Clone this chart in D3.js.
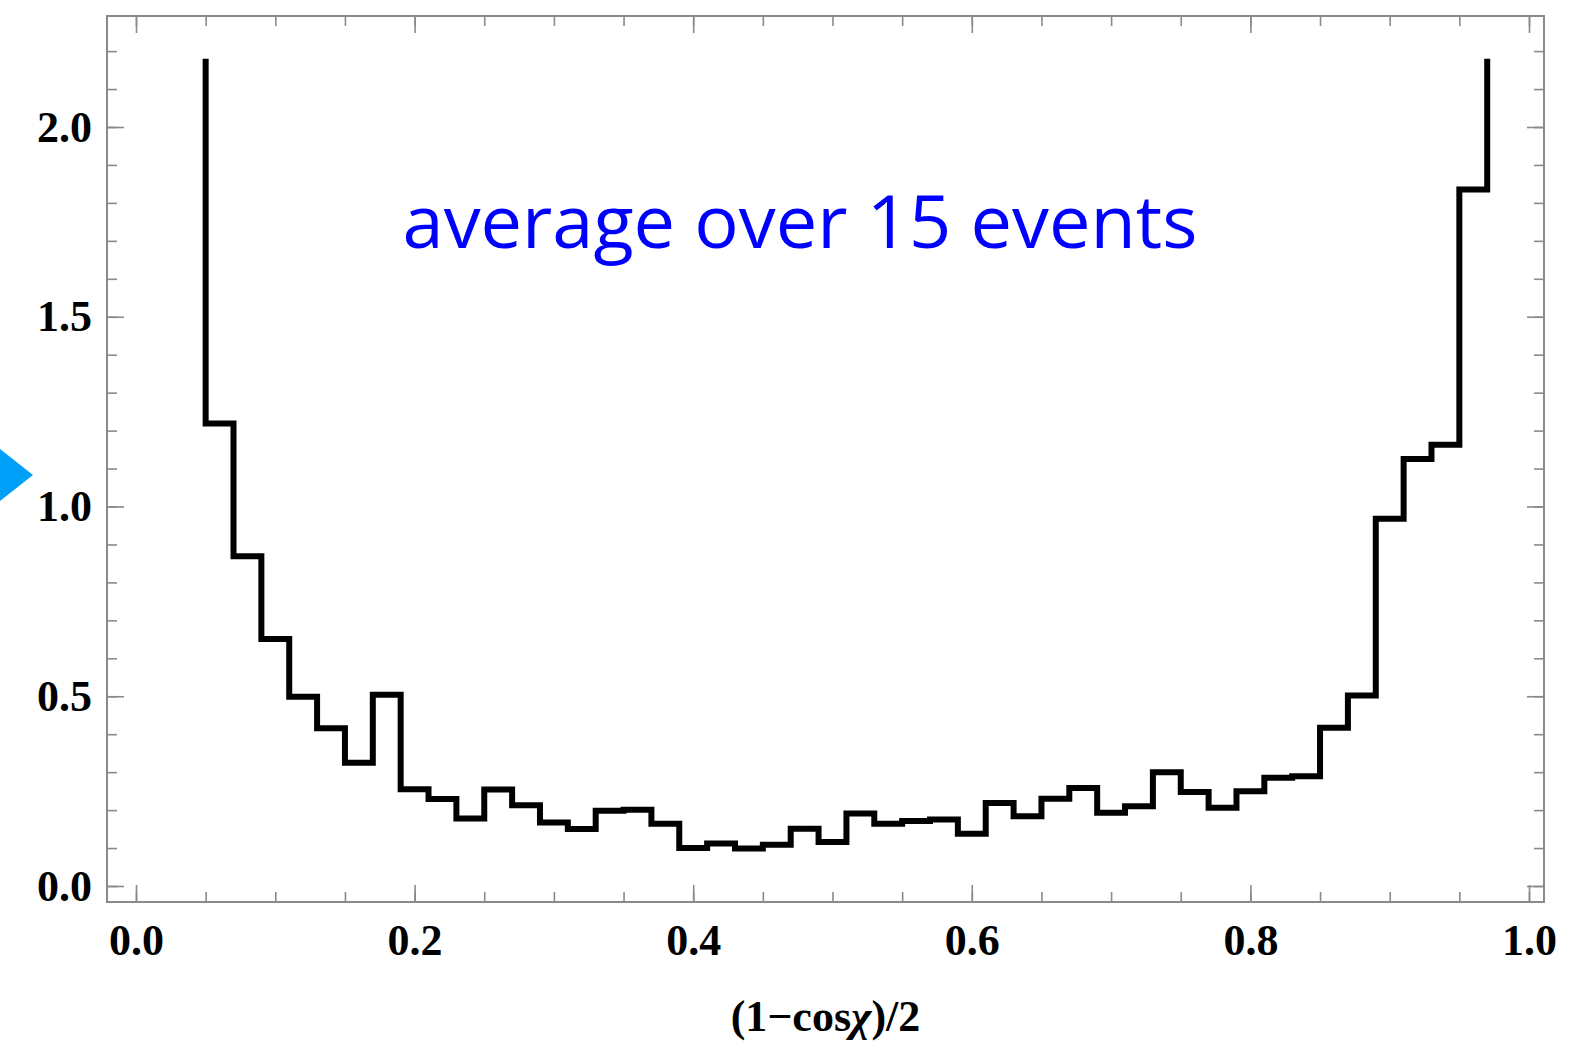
<!DOCTYPE html>
<html lang="en">
<head>
    <meta charset="UTF-8">
    <title>Histogram</title>
    <script src="https://d3js.org/d3.v7.min.js"></script>
    <style>
        body { margin: 0; background: #fff; }
        .tick line { stroke: #8a8a8a; stroke-width: 1.6; }
        .lbl text { font: bold 44px "Liberation Serif", "Times New Roman", serif; fill: #000; }
    </style>
</head>
<body>
<script>
    // bin edges run from 0.05 to 0.97 in steps of 0.02
    var binStart = 0.05, binWidth = 0.02;
    var binValues = [1.219, 0.869, 0.651, 0.499, 0.416, 0.325, 0.504, 0.255, 0.229, 0.178,
                     0.254, 0.213, 0.167, 0.150, 0.198, 0.201, 0.164, 0.100, 0.112, 0.099,
                     0.109, 0.151, 0.116, 0.191, 0.164, 0.171, 0.175, 0.138, 0.219, 0.184,
                     0.230, 0.258, 0.193, 0.210, 0.300, 0.248, 0.206, 0.250, 0.285, 0.289,
                     0.417, 0.502, 0.968, 1.125, 1.163, 1.835];
    var plotTop = 2.18;   // outer bins run off the plot range
    var xTicks = [0, 0.2, 0.4, 0.6, 0.8, 1.0];
    var yTicks = [0, 0.5, 1.0, 1.5, 2.0];
    var xMinor = d3.range(0, 1.0001, 0.05);
    var yMinor = d3.range(0, 2.2001, 0.1);

    var W = 1589, H = 1043;
    var frame = {left: 107, right: 1544, top: 16, bottom: 902};

    var x = d3.scaleLinear().domain([0, 1]).range([136, 1529]);
    var y = d3.scaleLinear().domain([0, 2]).range([886, 127]);

    var svg = d3.select("body").append("svg")
        .attr("width", W)
        .attr("height", H);

    // frame
    svg.append("rect")
        .attr("x", frame.left).attr("y", frame.top)
        .attr("width", frame.right - frame.left)
        .attr("height", frame.bottom - frame.top)
        .attr("fill", "none")
        .attr("stroke", "#8a8a8a")
        .attr("stroke-width", 2);

    function addAxis(axis, tx, ty, cls) {
        var g = svg.append("g")
            .attr("class", cls || "")
            .attr("transform", "translate(" + tx + "," + ty + ")")
            .call(axis);
        g.select(".domain").remove();
        return g;
    }

    var fmt = d3.format(".1f");

    // bottom
    addAxis(d3.axisBottom(x).tickValues(xMinor).tickSize(-10).tickFormat(""), 0, frame.bottom);
    addAxis(d3.axisBottom(x).tickValues(xTicks).tickSize(-17).tickPadding(22).tickFormat(fmt), 0, frame.bottom, "lbl");
    // top
    addAxis(d3.axisTop(x).tickValues(xMinor).tickSize(-10).tickFormat(""), 0, frame.top);
    addAxis(d3.axisTop(x).tickValues(xTicks).tickSize(-17).tickFormat(""), 0, frame.top);
    // left
    addAxis(d3.axisLeft(y).tickValues(yMinor).tickSize(-10).tickFormat(""), frame.left, 0);
    addAxis(d3.axisLeft(y).tickValues(yTicks).tickSize(-17).tickPadding(15).tickFormat(fmt), frame.left, 0, "lbl");
    // right
    addAxis(d3.axisRight(y).tickValues(yMinor).tickSize(-10).tickFormat(""), frame.right, 0);
    addAxis(d3.axisRight(y).tickValues(yTicks).tickSize(-17).tickFormat(""), frame.right, 0);

    svg.selectAll(".lbl").attr("font-size", null).attr("font-family", null);

    // histogram outline
    var pts = [[binStart, plotTop]];
    binValues.forEach(function(v, i) {
        var x0 = binStart + i * binWidth;
        pts.push([x0, v], [x0 + binWidth, v]);
    });
    pts.push([binStart + binValues.length * binWidth, plotTop]);

    var line = d3.line()
        .x(function(d) { return x(d[0]); })
        .y(function(d) { return y(d[1]); });

    svg.append("path")
        .attr("d", line(pts))
        .attr("fill", "none")
        .attr("stroke", "#000")
        .attr("stroke-width", 6)
        .attr("stroke-linejoin", "miter")
        .attr("stroke-linecap", "butt");

    // annotation
    var note = svg.append("text")
        .attr("x", 800)
        .attr("y", 248)
        .attr("text-anchor", "middle")
        .attr("fill", "#0000ff")
        .style("font-family", "'Open Sans', sans-serif")
        .style("font-size", "100px")
        .text("average over 15 events");
    var w = note.node().getComputedTextLength();
    note.style("font-size", (100 * 795 / w) + "px");

    // x axis title
    var title = svg.append("text")
        .attr("x", (frame.left + frame.right) / 2)
        .attr("y", 1031)
        .attr("text-anchor", "middle")
        .style("font", "bold 44px 'Liberation Serif', serif");
    title.append("tspan").text("(1\u2212cos");
    title.append("tspan").style("font-style", "italic").text("\u03c7");
    title.append("tspan").text(")/2");

    // blue marker at the left edge
    svg.append("path")
        .attr("d", "M0,449L33,475L0,501Z")
        .attr("fill", "#00a0f8");
</script>
</body>
</html>
